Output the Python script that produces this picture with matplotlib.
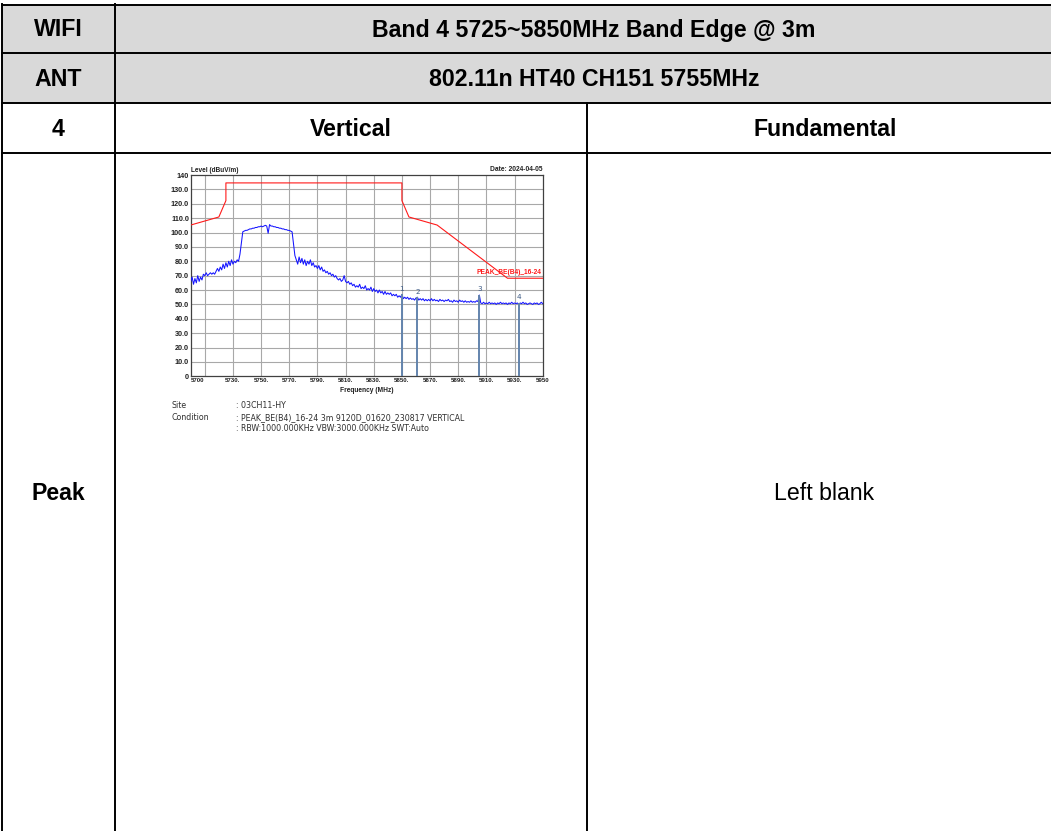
import numpy as np
import matplotlib
matplotlib.use("Agg")
import matplotlib.pyplot as plt
from matplotlib.patches import Rectangle

# ---------------- data ----------------
header_row1 = ["WIFI", "Band 4 5725~5850MHz Band Edge @ 3m"]
header_row2 = ["ANT", "802.11n HT40 CH151 5755MHz"]
header_row3 = ["4", "Vertical", "Fundamental"]
row4_label = "Peak"
row4_right = "Left blank"

# sweep start frequency (MHz) of each segment and its 1-MHz-spaced levels (dBuV/m)
seg_start = [5700, 5775, 5851, 5905, 5906]
seg_levels = [
    [66, 69, 64, 68, 65, 70, 66, 69, 67, 71, 70, 72, 70, 71, 72, 71, 72, 71, 73, 75, 73,
     76, 74, 78, 75, 79, 76, 80, 77, 81, 78, 80, 79, 81, 80, 85,
     93, 100.5, 101, 101.5, 101.5, 102, 102.5, 102.5, 103, 103, 103.5, 103.5, 104, 104,
     104.5, 104, 104.5, 105, 104.5, 99.5, 105.5, 104.5, 104.5, 104, 104, 103.5, 103.5,
     103, 103, 102.5, 102.5, 102, 102, 101.5, 101.5, 101, 100.5, 92, 84],
    [81, 78, 83, 79, 82, 78, 81, 77, 80, 78, 81, 77, 79, 76, 77, 75, 77, 74, 76, 73, 74, 72, 73, 71, 72,
     70, 71, 69, 70, 68, 67, 68, 66, 67, 70, 66, 65, 66, 64, 65, 63, 64, 62, 63, 62,
     64, 61, 62, 61, 63, 60, 61, 60, 62, 59, 61, 59, 60, 58, 60, 58, 59, 57, 59, 57,
     58, 57, 58, 56, 57, 56, 57, 55, 56, 55, 57],
    [54, 55, 54, 55, 53.5, 54.5, 53.5, 54, 53, 54.5, 55, 53, 54, 53, 54, 52.5, 53.5, 52.5,
     53.5, 52.5, 54, 52.5, 53.5, 52.5, 53, 52, 53.5, 52.5, 53, 52, 53, 52.5, 53.5, 52,
     52.5, 51.5, 53, 52, 52.5, 51.5, 53, 52, 52.5, 51.5, 52.5, 51.5, 52, 51.5, 52.5, 51.5,
     52, 51.5, 52.5, 52],
    [56.5],
    [51, 50.5, 51.5, 50.5, 51, 50.5, 51.5, 50.5, 51, 50.5, 51, 50, 51, 50.5, 51.5, 50.5,
     51, 50.5, 51, 50, 51, 50.5, 51.5, 50.5, 51, 50.5, 51, 50, 51, 50.5, 51.5, 50.5, 51,
     50, 50.5, 51, 50.5, 50, 51, 50.5, 51, 50, 50.5, 51.5, 50.5],
]

limit_freq = [5700, 5720, 5725, 5725, 5850, 5850, 5855, 5875, 5925, 5950]
limit_level = [105.2, 110.8, 122.2, 134.5, 134.5, 122.2, 110.8, 105.2, 68.2, 68.2]
limit_name = "PEAK_BE(B4)_16-24"

marker_freq = [5850, 5861, 5905, 5933]
marker_level = [57, 55, 56.5, 51]
marker_names = ["1", "2", "3", "4"]

xtick_vals = [5700, 5730, 5750, 5770, 5790, 5810, 5830, 5850, 5870, 5890, 5910, 5930, 5950]
xtick_labels = ["5700", "5730.", "5750.", "5770.", "5790.", "5810.", "5830.", "5850.",
                "5870.", "5890.", "5910.", "5930.", "5950"]
ytick_vals = [0, 10, 20, 30, 40, 50, 60, 70, 80, 90, 100, 110, 120, 130, 140]
ytick_labels = ["0", "10.0", "20.0", "30.0", "40.0", "50.0", "60.0", "70.0", "80.0",
                "90.0", "100.0", "110.0", "120.0", "130.0", "140"]
xgrid_vals = [5710, 5730, 5750, 5770, 5790, 5810, 5830, 5850, 5870, 5890, 5910, 5930]

info_keys = ["Site", "Condition", ""]
info_vals = [": 03CH11-HY", ": PEAK_BE(B4)_16-24 3m 9120D_01620_230817 VERTICAL",
             ": RBW:1000.000KHz VBW:3000.000KHz SWT:Auto"]

# ---------------- figure ----------------
W, H = 1051, 831
fig = plt.figure(figsize=(W / 100, H / 100), dpi=100)
fig.patch.set_facecolor("white")

tab = fig.add_axes([0, 0, 1, 1])
tab.set_xlim(0, W)
tab.set_ylim(H, 0)
tab.axis("off")

gray = "#d9d9d9"
tab.add_patch(Rectangle((2, 5), 1100, 48, facecolor=gray, edgecolor="none"))
tab.add_patch(Rectangle((2, 53), 1100, 50, facecolor=gray, edgecolor="none"))

lw = 1.4
for y in [5, 53, 103, 153]:
    tab.plot([1, W + 5], [y, y], color="black", lw=lw, solid_capstyle="butt")
tab.plot([2, 2], [4, H + 5], color="black", lw=lw)
tab.plot([115, 115], [4, H + 5], color="black", lw=lw)
tab.plot([587, 587], [103, H + 5], color="black", lw=lw)

bold = dict(family="Liberation Sans", fontweight="bold", fontsize=16.7,
            ha="center", va="center", color="black")
tab.text(58, 30, header_row1[0], **bold)
tab.text(594, 30, header_row1[1], **bold)
tab.text(58, 79, header_row2[0], **bold)
tab.text(594, 79, header_row2[1], **bold)
tab.text(58, 129, header_row3[0], **bold)
tab.text(351, 129, header_row3[1], **bold)
tab.text(825, 129, header_row3[2], **bold)
tab.text(58, 494, row4_label, **bold)
tab.text(824, 494, row4_right, family="Liberation Sans", fontsize=16.7,
         ha="center", va="center", color="black")

# ---------------- embedded spectrum plot ----------------
ax_l, ax_r, ax_t, ax_b = 190.7, 542.7, 175.0, 376.3
ax = fig.add_axes([ax_l / W, (H - ax_b) / H, (ax_r - ax_l) / W, (ax_b - ax_t) / H])
ax.set_xlim(5700, 5950)
ax.set_ylim(0, 140)
ax.set_facecolor("white")

for gx in xgrid_vals:
    ax.axvline(gx, color="#a8a8a8", lw=0.8, zorder=1)
for gy in range(10, 140, 10):
    ax.axhline(gy, color="#a8a8a8", lw=0.8, zorder=1)

for s in ax.spines.values():
    s.set_color("#404040")
    s.set_linewidth(0.9)

freq = np.concatenate([s0 + np.arange(len(v)) for s0, v in zip(seg_start, seg_levels)])
level = np.concatenate([np.array(v, dtype=float) for v in seg_levels])

ax.plot(limit_freq, limit_level, color="#ff1a1a", lw=0.8, zorder=3)
ax.plot(freq, level, color="#1414ff", lw=0.75, zorder=4)

for f, lv, nm in zip(marker_freq, marker_level, marker_names):
    ax.plot([f, f], [0, lv], color="#6384ad", lw=1.4, zorder=5, solid_capstyle="butt")
    ax.text(f, lv + 1.8, nm, color="#3c5a85", fontsize=5.2, ha="center", va="bottom",
            family="DejaVu Sans", zorder=6)

ax.text(5949, 69.5, limit_name, color="#ff1a1a", fontsize=4.8, fontweight="bold",
        ha="right", va="bottom", family="Liberation Sans", zorder=6)

ax.set_xticks(xtick_vals)
ax.set_xticklabels(xtick_labels)
ax.set_yticks(ytick_vals)
ax.set_yticklabels(ytick_labels)
ax.tick_params(length=0)
ax.tick_params(axis="y", pad=1.2)
ax.tick_params(axis="x", pad=1.0)
for t in ax.get_yticklabels():
    t.set_fontsize(5.2)
    t.set_fontweight("bold")
    t.set_family("Liberation Sans")
    t.set_color("#202020")
for t in ax.get_xticklabels():
    t.set_fontsize(4.4)
    t.set_fontweight("bold")
    t.set_family("Liberation Sans")
    t.set_color("#202020")
xl = ax.get_xticklabels()
xl[0].set_horizontalalignment("left")

ax.text(0.0, 1.005, "Level (dBuV/m)", transform=ax.transAxes, fontsize=4.7,
        fontweight="bold", family="Liberation Sans", ha="left", va="bottom", color="#202020")
ax.text(1.0, 1.012, "Date: 2024-04-05", transform=ax.transAxes, fontsize=4.8,
        fontweight="bold", family="Liberation Sans", ha="right", va="bottom", color="#202020")

tab.text((ax_l + ax_r) / 2, 390.5, "Frequency (MHz)", fontsize=4.8, fontweight="bold",
         family="Liberation Sans", ha="center", va="center", color="#202020")

for i, (k, v) in enumerate(zip(info_keys, info_vals)):
    y = 406 + i * 11.2
    tab.text(172, y, k, fontsize=5.7, family="DejaVu Sans", ha="left", va="center",
             color="#303030")
    tab.text(236, y, v, fontsize=5.7, family="DejaVu Sans", ha="left", va="center",
             color="#303030")

fig.savefig("out.png", dpi=100)
